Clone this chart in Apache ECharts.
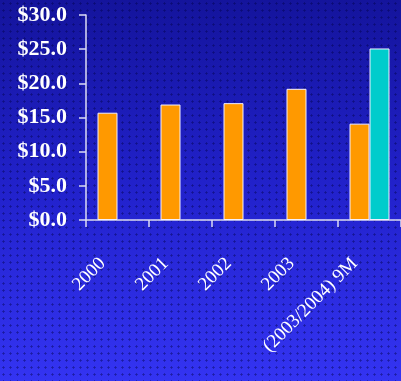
<!DOCTYPE html>
<html>
<head>
<meta charset="utf-8">
<script src="https://cdn.jsdelivr.net/npm/echarts@6/dist/echarts.min.js"></script>
<style>
  html, body { margin: 0; padding: 0; }
  body {
    width: 401px; height: 381px; overflow: hidden;
    background:
      radial-gradient(circle, rgba(0, 0, 70, 0.45) 0.9px, transparent 1.3px) 0 0 / 7px 7px,
      linear-gradient(to bottom, #14149c 0%, #2222cc 50%, #3434f2 100%);
  }
  #chart { width: 401px; height: 381px; }
</style>
</head>
<body>
<div id="chart"></div>
<script>
// Revenue by period, in millions of dollars
const categories = ['2000', '2001', '2002', '2003', '(2003/2004) 9M'];
const revenue = [15.7, 16.9, 17.1, 19.2, 14.1];
const revenueNew = [null, null, null, null, 25.1];
const yTicks = { min: 0, max: 30, interval: 5 };

const chart = echarts.init(document.getElementById('chart'), null, { renderer: 'canvas' });

const axisColor = '#dcdcf4';

chart.setOption({
  backgroundColor: 'transparent',
  animation: false,
  grid: { left: 86, top: 15, width: 320, height: 205, containLabel: false },
  xAxis: {
    type: 'category',
    data: categories,
    axisLine: { lineStyle: { color: axisColor, width: 1.5 } },
    axisTick: { show: true, length: 7, lineStyle: { color: axisColor, width: 1.5 } },
    axisLabel: {
      interval: 0,
      rotate: 45,
      margin: 26,
      padding: [0, 21, 0, 0],
      color: '#ffffff',
      fontFamily: 'Liberation Serif, Times New Roman, serif',
      fontSize: 19
    }
  },
  yAxis: {
    type: 'value',
    min: yTicks.min,
    max: yTicks.max,
    interval: yTicks.interval,
    splitLine: { show: false },
    axisLine: { show: true, lineStyle: { color: axisColor, width: 1.5 } },
    axisTick: { show: true, length: 7, lineStyle: { color: axisColor, width: 1.5 } },
    axisLabel: {
      margin: 19,
      color: '#ffffff',
      fontFamily: 'Liberation Serif, Times New Roman, serif',
      fontWeight: 'bold',
      fontSize: 22,
      formatter: v => '$' + v.toFixed(1)
    }
  },
  series: [
    {
      type: 'bar',
      data: revenue,
      barWidth: 20,
      barGap: '0%',
      itemStyle: { color: '#ff9900', borderColor: '#f4f0ff', borderWidth: 1 }
    },
    {
      type: 'bar',
      data: revenueNew,
      barWidth: 20,
      barGap: '0%',
      itemStyle: { color: '#00cccc', borderColor: '#f4f0ff', borderWidth: 1 }
    }
  ]
});
</script>
</body>
</html>
